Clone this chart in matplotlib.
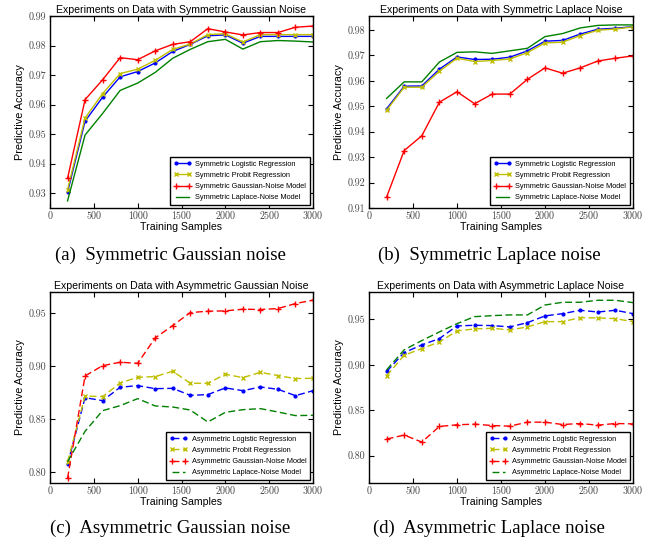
import matplotlib
matplotlib.use("Agg")
import matplotlib.pyplot as plt
import numpy as np

# ---------------- data ----------------
samples = [200, 400, 600, 800, 1000, 1200, 1400, 1600, 1800, 2000, 2200, 2400, 2600, 2800, 3000]

# (a) Symmetric Gaussian noise
a_logistic = [0.9303, 0.9544, 0.9625, 0.9694, 0.9712, 0.9741, 0.9780, 0.9804, 0.9833, 0.9836, 0.9808, 0.9831, 0.9831, 0.9831, 0.9831]
a_probit   = [0.9312, 0.9555, 0.9637, 0.9705, 0.9720, 0.9750, 0.9787, 0.9805, 0.9837, 0.9840, 0.9812, 0.9837, 0.9837, 0.9837, 0.9837]
a_gauss    = [0.9350, 0.9617, 0.9684, 0.9759, 0.9752, 0.9782, 0.9804, 0.9813, 0.9857, 0.9846, 0.9836, 0.9844, 0.9844, 0.9862, 0.9866]
a_laplace  = [0.9274, 0.9497, 0.9570, 0.9648, 0.9673, 0.9709, 0.9757, 0.9787, 0.9813, 0.9821, 0.9788, 0.9813, 0.9817, 0.9815, 0.9812]

# (b) Symmetric Laplace noise
b_logistic = [0.9490, 0.9579, 0.9580, 0.9646, 0.9694, 0.9684, 0.9685, 0.9693, 0.9718, 0.9756, 0.9759, 0.9784, 0.9803, 0.9807, 0.9813]
b_probit   = [0.9484, 0.9575, 0.9575, 0.9638, 0.9689, 0.9676, 0.9680, 0.9686, 0.9711, 0.9749, 0.9752, 0.9778, 0.9799, 0.9804, 0.9812]
b_gauss    = [0.9143, 0.9326, 0.9384, 0.9516, 0.9557, 0.9510, 0.9548, 0.9548, 0.9606, 0.9651, 0.9630, 0.9651, 0.9678, 0.9689, 0.9698]
b_laplace  = [0.9531, 0.9596, 0.9596, 0.9674, 0.9712, 0.9714, 0.9708, 0.9718, 0.9728, 0.9774, 0.9786, 0.9808, 0.9818, 0.9820, 0.9820]

# (c) Asymmetric Gaussian noise
c_logistic = [0.8075, 0.8704, 0.8676, 0.8802, 0.8818, 0.8789, 0.8792, 0.8726, 0.8733, 0.8796, 0.8770, 0.8805, 0.8783, 0.8723, 0.8770]
c_probit   = [0.8097, 0.8720, 0.8714, 0.8843, 0.8896, 0.8903, 0.8953, 0.8840, 0.8840, 0.8925, 0.8893, 0.8943, 0.8912, 0.8884, 0.8887]
c_gauss    = [0.7943, 0.8909, 0.9006, 0.9038, 0.9028, 0.9267, 0.9384, 0.9506, 0.9519, 0.9522, 0.9538, 0.9535, 0.9544, 0.9591, 0.9623]
c_laplace  = [0.8101, 0.8387, 0.8582, 0.8629, 0.8695, 0.8626, 0.8616, 0.8588, 0.8475, 0.8566, 0.8591, 0.8601, 0.8569, 0.8535, 0.8538]

# (d) Asymmetric Laplace noise
d_logistic = [0.8926, 0.9134, 0.9218, 0.9288, 0.9427, 0.9434, 0.9431, 0.9416, 0.9463, 0.9537, 0.9562, 0.9599, 0.9580, 0.9599, 0.9562]
d_probit   = [0.8878, 0.9105, 0.9178, 0.9251, 0.9372, 0.9394, 0.9401, 0.9383, 0.9416, 0.9474, 0.9474, 0.9518, 0.9515, 0.9507, 0.9474]
d_gauss    = [0.8183, 0.8227, 0.8150, 0.8322, 0.8340, 0.8347, 0.8332, 0.8325, 0.8369, 0.8369, 0.8343, 0.8354, 0.8336, 0.8354, 0.8350]
d_laplace  = [0.8944, 0.9164, 0.9266, 0.9361, 0.9452, 0.9529, 0.9540, 0.9548, 0.9548, 0.9657, 0.9687, 0.9687, 0.9709, 0.9709, 0.9683]

titles = ["Experiments on Data with Symmetric Gaussian Noise",
          "Experiments on Data with Symmetric Laplace Noise",
          "Experiments on Data with Asymmetric Gaussian Noise",
          "Experiments on Data with Asymmetric Laplace Noise"]
captions = ["(a)  Symmetric Gaussian noise", "(b)  Symmetric Laplace noise",
            "(c)  Asymmetric Gaussian noise", "(d)  Asymmetric Laplace noise"]
sym_labels = ["Symmetric Logistic Regression", "Symmetric Probit Regression",
              "Symmetric Gaussian-Noise Model", "Symmetric Laplace-Noise Model"]
asym_labels = ["Asymmetric Logistic Regression", "Asymmetric Probit Regression",
               "Asymmetric Gaussian-Noise Model", "Asymmetric Laplace-Noise Model"]
x_ticks = [0, 500, 1000, 1500, 2000, 2500, 3000]
a_yticks = [0.93, 0.94, 0.95, 0.96, 0.97, 0.98, 0.99]
b_yticks = [0.91, 0.92, 0.93, 0.94, 0.95, 0.96, 0.97, 0.98]
c_yticks = [0.80, 0.85, 0.90, 0.95]
d_yticks = [0.80, 0.85, 0.90, 0.95]

# ---------------- styling ----------------
W, H = 665, 544
fig = plt.figure(figsize=(W / 100, H / 100), dpi=100)
fig.patch.set_facecolor("white")

sans = "Liberation Sans"
serif_tick = "cmr10"

colors = [(0, 0, 1), (0.75, 0.75, 0), (1, 0, 0), (0, 0.5, 0)]
markers = [".", "x", "+", None]
msizes = [4, 3.2, 4, 0]


def box(l, t, r, b):
    return [l / W, 1 - b / H, (r - l) / W, (b - t) / H]


panels = [
    dict(rect=box(50, 16, 313, 208), series=[a_logistic, a_probit, a_gauss, a_laplace],
         labels=sym_labels, ylim=(0.925, 0.99), yticks=a_yticks, ls="-", fmt="%.2f"),
    dict(rect=box(369, 16, 633, 208), series=[b_logistic, b_probit, b_gauss, b_laplace],
         labels=sym_labels, ylim=(0.91, 0.9855), yticks=b_yticks, ls="-", fmt="%.2f"),
    dict(rect=box(50, 292, 313, 483), series=[c_logistic, c_probit, c_gauss, c_laplace],
         labels=asym_labels, ylim=(0.79, 0.97), yticks=c_yticks, ls=(0, (5, 2.5)), fmt="%.2f"),
    dict(rect=box(369, 292, 633, 483), series=[d_logistic, d_probit, d_gauss, d_laplace],
         labels=asym_labels, ylim=(0.77, 0.98), yticks=d_yticks, ls=(0, (5, 2.5)), fmt="%.2f"),
]

for i, p in enumerate(panels):
    ax = fig.add_axes(p["rect"])
    for s, lab, c, m, ms in zip(p["series"], p["labels"], colors, markers, msizes):
        ax.plot(samples, s, color=c, linestyle=p["ls"], linewidth=1.0,
                marker=m if m else "None", markersize=ms, markeredgewidth=1.0,
                label=lab)
    ax.set_xlim(0, 3000)
    ax.set_ylim(*p["ylim"])
    ax.set_xticks(x_ticks)
    ax.set_yticks(p["yticks"])
    ax.set_xticklabels([str(v) for v in x_ticks], fontfamily=serif_tick, fontsize=7.2)
    ax.set_yticklabels([p["fmt"] % v for v in p["yticks"]], fontfamily=serif_tick, fontsize=7.2)
    ax.tick_params(direction="in", top=True, right=True, length=3.5, width=0.8, pad=2.5,
                   colors="black", labelcolor="#444444")
    for sp in ax.spines.values():
        sp.set_linewidth(1.0)
        sp.set_color("black")
    ax.set_title(titles[i], fontfamily=sans, fontsize=7.6, pad=2)
    ax.set_xlabel("Training Samples", fontfamily=sans, fontsize=7.6, labelpad=1)
    ax.set_ylabel("Predictive Accuracy", fontfamily=sans, fontsize=7.8, labelpad=3)
    leg = ax.legend(loc="lower right", prop={"family": sans, "size": 5.3}, numpoints=2,
                    handlelength=2.4, handletextpad=0.6, labelspacing=0.55,
                    borderaxespad=0.4, fancybox=False, framealpha=1.0,
                    edgecolor="black", borderpad=0.5)
    leg.get_frame().set_linewidth(1.0)

cap_x = [170 / W, 489 / W, 170 / W, 489 / W]
cap_y = [1 - 255 / H, 1 - 255 / H, 1 - 528 / H, 1 - 528 / H]
for cx, cy, cap in zip(cap_x, cap_y, captions):
    fig.text(cx, cy, cap, ha="center", va="center", fontfamily="Liberation Serif", fontsize=13.5)

fig.savefig("out.png", dpi=100, facecolor="white")
